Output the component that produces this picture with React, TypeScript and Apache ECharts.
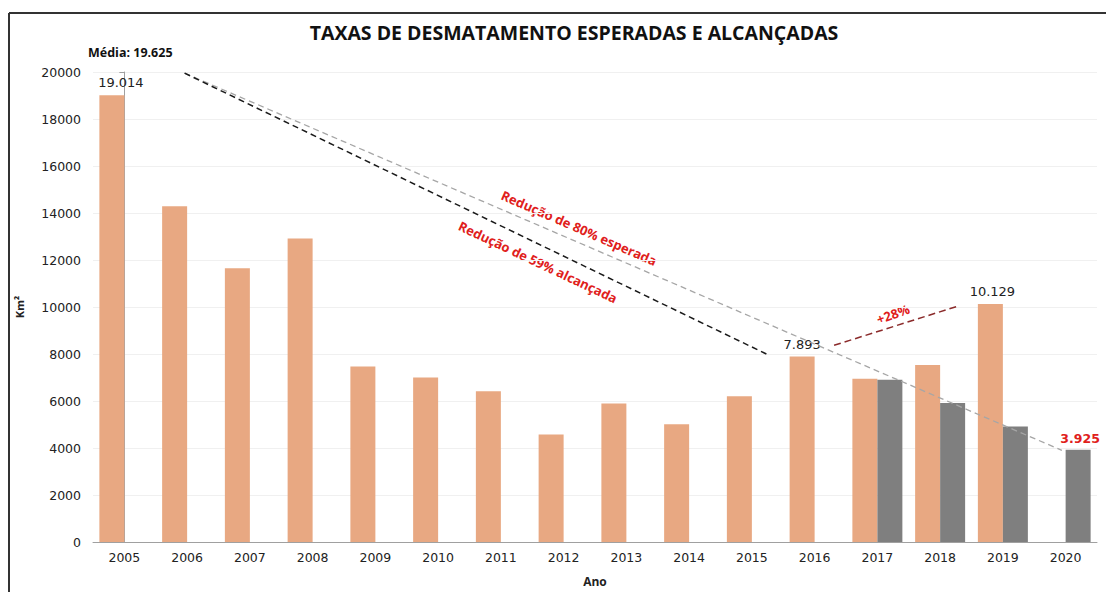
import React, { useEffect, useRef } from "react";
import * as echarts from "echarts";

const years = ["2005","2006","2007","2008","2009","2010","2011","2012","2013","2014","2015","2016","2017","2018","2019","2020"];
const achieved: (number | null)[] = [19014, 14286, 11651, 12911, 7464, 7000, 6418, 4571, 5891, 5012, 6207, 7893, 6947, 7536, 10129, null];
const expected: (number | null)[] = [null, null, null, null, null, null, null, null, null, null, null, null, 6900, 5910, 4910, 3925];
const labeledAchieved = [0, 11, 14];
const labeledExpected = [15];
// trend lines: [category index (fractional), value]
const expectedTrend: [number, number][] = [[0.96, 19950], [14.94, 3900]];
const achievedTrend: [number, number][] = [[0.96, 19950], [10.27, 7950]];
const riseTrend: [number, number][] = [[11.31, 8370], [13.31, 10060]];
const yTicks = { min: 0, max: 20000, interval: 2000 };

const fmt = (v: number) => String(v).replace(/\B(?=(\d{3})+(?!\d))/g, ".");
const labelOffsets: Record<number, [number, number]> = { 0: [9, 0], 11: [0, 0], 14: [2, 0] };

export default function App() {
  const ref = useRef<HTMLDivElement>(null);
  useEffect(() => {
    if (!ref.current) return;
    const chart = echarts.init(ref.current, null, { renderer: "svg" });
    const font = "DejaVu Sans";
    chart.setOption({
      animation: false,
      backgroundColor: "#ffffff",
      textStyle: { fontFamily: font },
      title: {
        text: "TAXAS DE DESMATAMENTO ESPERADAS E ALCANÇADAS",
        left: 569,
        top: 17,
        textAlign: "center",
        textStyle: { fontFamily: "Open Sans", fontWeight: "bold", fontSize: 19.5, color: "#111" },
      },
      grid: { left: 93, right: 9, top: 72, bottom: 44, containLabel: false },
      xAxis: [
        {
          type: "category",
          data: years,
          name: "Ano",
          nameLocation: "middle",
          nameGap: 33,
          nameTextStyle: { fontFamily: "Open Sans", fontWeight: "bold", fontSize: 12, color: "#222" },
          axisLine: { lineStyle: { color: "#a0a0a0" } },
          axisTick: { lineStyle: { color: "#a0a0a0" }, length: 4 },
          axisLabel: { color: "#222", fontSize: 12.5, margin: 9 },
        },
        { type: "value", min: -0.5, max: 15.5, show: false },
      ],
      yAxis: {
        type: "value",
        min: yTicks.min,
        max: yTicks.max,
        interval: yTicks.interval,
        name: "Km²",
        nameLocation: "middle",
        nameGap: 68,
        nameRotate: 90,
        nameTextStyle: { fontFamily: "Open Sans", fontWeight: "bold", fontSize: 11, color: "#222" },
        axisLine: { show: true, lineStyle: { color: "#a0a0a0" } },
        axisTick: { show: true, length: 5, lineStyle: { color: "#a0a0a0" } },
        axisLabel: { color: "#222", fontSize: 12.5, margin: 12, formatter: (v: number) => String(v) },
        splitLine: { lineStyle: { color: "#f0f0f0" } },
      },
      series: [
        {
          type: "bar",
          barWidth: 25,
          barGap: "0%",
          itemStyle: { color: "#E8A882" },
          data: achieved.map((v, i) =>
            v == null
              ? "-"
              : labeledAchieved.includes(i)
              ? {
                  value: v,
                  label: {
                    show: true,
                    position: "top",
                    distance: 6,
                    offset: labelOffsets[i],
                    formatter: () => fmt(v),
                    color: "#222",
                    fontSize: 13,
                  },
                }
              : v
          ),
        },
        {
          type: "bar",
          barWidth: 25,
          barGap: "0%",
          itemStyle: { color: "#7F7F7F" },
          data: expected.map((v, i) =>
            v == null
              ? "-"
              : labeledExpected.includes(i)
              ? {
                  value: v,
                  label: {
                    show: true,
                    position: "top",
                    distance: 5,
                    offset: [2, 0],
                    formatter: () => fmt(v),
                    color: "#E0201B",
                    fontWeight: "bold",
                    fontSize: 12.5,
                  },
                }
              : v
          ),
        },
        {
          type: "line",
          xAxisIndex: 1,
          symbol: "none",
          data: expectedTrend,
          lineStyle: { color: "#A6A6A6", type: [6, 4], width: 1.3 },
          z: 5,
        },
        {
          type: "line",
          xAxisIndex: 1,
          symbol: "none",
          data: achievedTrend,
          lineStyle: { color: "#1a1a1a", type: [6, 4], width: 1.5 },
          z: 5,
        },
        {
          type: "line",
          xAxisIndex: 1,
          symbol: "none",
          data: riseTrend,
          lineStyle: { color: "#8B2B2B", type: [7, 4], width: 1.5 },
          z: 5,
        },
      ],
      graphic: [
        { type: "line", shape: { x1: 9, y1: 13, x2: 1106, y2: 13 }, style: { stroke: "#333", lineWidth: 2 } },
        { type: "line", shape: { x1: 9, y1: 13, x2: 9, y2: 592 }, style: { stroke: "#333", lineWidth: 2 } },
        {
          type: "text",
          left: 88,
          top: 46,
          style: { text: "Média: 19.625", font: "bold 12.5px 'Open Sans'", fill: "#111" },
        },
        {
          type: "text",
          x: 579,
          y: 228,
          rotation: -0.41,
          style: { text: "Redução de 80% esperada", font: "bold 13px 'Open Sans'", fill: "#E0201B", align: "center", verticalAlign: "middle" },
        },
        {
          type: "text",
          x: 538,
          y: 262,
          rotation: -0.44,
          style: { text: "Redução de 59% alcançada", font: "bold 13px 'Open Sans'", fill: "#E0201B", align: "center", verticalAlign: "middle" },
        },
        {
          type: "text",
          x: 893,
          y: 314,
          rotation: 0.35,
          style: { text: "+28%", font: "bold 13px 'Open Sans'", fill: "#E0201B", align: "center", verticalAlign: "middle" },
        },
      ],
    });
    return () => chart.dispose();
  }, []);
  return <div ref={ref} style={{ position: "fixed", left: 0, top: 0, width: 1106, height: 592 }} />;
}
